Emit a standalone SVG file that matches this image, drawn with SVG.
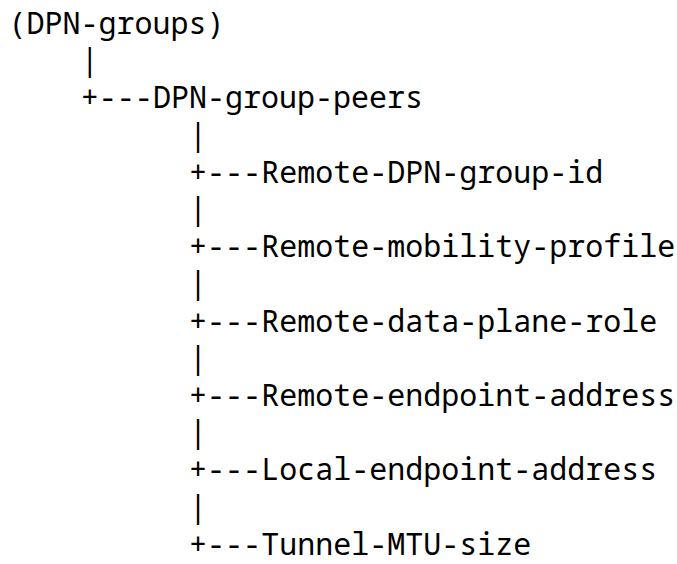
<svg xmlns="http://www.w3.org/2000/svg" width="677" height="564" viewBox="0 0 677 564">
  <style>
    text { font-family: "Noto Sans Mono", "DejaVu Sans Mono", "Liberation Mono", monospace; font-size: 30px; fill: #000; white-space: pre; }
  </style>
  <rect width="677" height="564" fill="#fff"/>
  <!-- tree branches drawn as ASCII characters; rows 37.2px apart, columns 18.06px apart -->
  <g id="connectors">
    <text x="80.74" y="71.2">|</text>
    <text x="80.74" y="108.4">+---</text>
    <text x="189.1" y="145.6">|</text>
    <text x="189.1" y="182.8">+---</text>
    <text x="189.1" y="220">|</text>
    <text x="189.1" y="257.2">+---</text>
    <text x="189.1" y="294.4">|</text>
    <text x="189.1" y="331.6">+---</text>
    <text x="189.1" y="368.8">|</text>
    <text x="189.1" y="406">+---</text>
    <text x="189.1" y="443.2">|</text>
    <text x="189.1" y="480.4">+---</text>
    <text x="189.1" y="517.6">|</text>
    <text x="189.1" y="554.8">+---</text>
  </g>
  <g id="dpn-groups"><text x="8.5" y="34">(DPN-groups)</text></g>
  <g id="dpn-group-peers"><text x="152.98" y="108.4">DPN-group-peers</text></g>
  <g id="remote-dpn-group-id"><text x="261.34" y="182.8">Remote-DPN-group-id</text></g>
  <g id="remote-mobility-profile"><text x="261.34" y="257.2">Remote-mobility-profile</text></g>
  <g id="remote-data-plane-role"><text x="261.34" y="331.6">Remote-data-plane-role</text></g>
  <g id="remote-endpoint-address"><text x="261.34" y="406">Remote-endpoint-address</text></g>
  <g id="local-endpoint-address"><text x="261.34" y="480.4">Local-endpoint-address</text></g>
  <g id="tunnel-mtu-size"><text x="261.34" y="554.8">Tunnel-MTU-size</text></g>
</svg>
